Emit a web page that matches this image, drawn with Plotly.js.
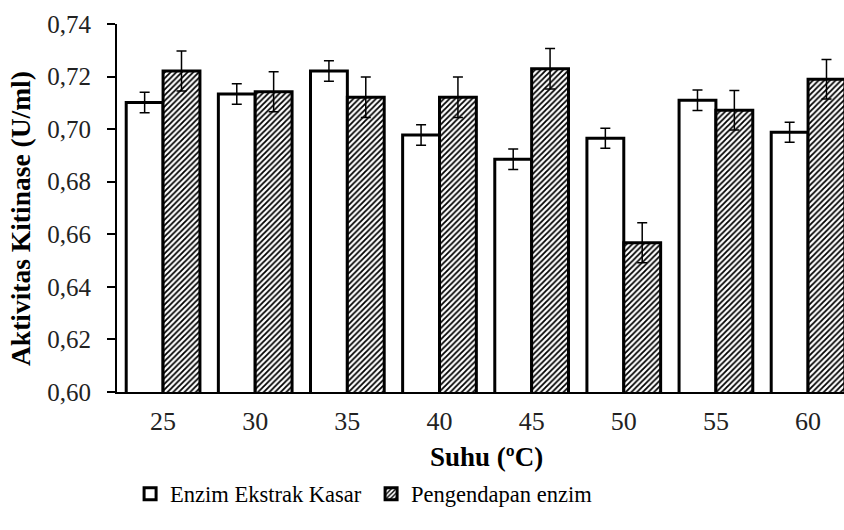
<!DOCTYPE html>
<html>
<head>
<meta charset="utf-8">
<script src="https://cdn.plot.ly/plotly-3.0.1.min.js"></script>
<style>html,body{margin:0;padding:0;background:#fff;}#chart{width:844px;height:530px;}</style>
</head>
<body>
<div id="chart"></div>
<script>
const categories = ['25', '30', '35', '40', '45', '50', '55', '60'];
const seriesNames = ['Enzim Ekstrak Kasar', 'Pengendapan enzim'];
const ekstrakKasar = [0.7101, 0.7134, 0.7221, 0.6978, 0.6885, 0.6965, 0.7110, 0.6988];
const ekstrakKasarErr = [0.0039, 0.0039, 0.0039, 0.0039, 0.0039, 0.0038, 0.0039, 0.0038];
const pengendapan = [0.7221, 0.7142, 0.7121, 0.7121, 0.7230, 0.6568, 0.7072, 0.7190];
const pengendapanErr = [0.0076, 0.0076, 0.0077, 0.0077, 0.0077, 0.0076, 0.0075, 0.0075];
const yTicks = [0.60, 0.62, 0.64, 0.66, 0.68, 0.70, 0.72, 0.74];
const yTickText = ['0,60', '0,62', '0,64', '0,66', '0,68', '0,70', '0,72', '0,74'];
const xTitle = '<b>Suhu (ºC)</b>';
const yTitle = '<b>Aktivitas Kitinase (U/ml)</b>';

const serif = "'Liberation Serif', 'DejaVu Serif', serif";

const traces = [
  {
    type: 'bar', name: seriesNames[0], x: categories, y: ekstrakKasar,
    marker: {color: '#ffffff', line: {color: '#000', width: 3}},
    error_y: {type: 'data', array: ekstrakKasarErr, visible: true, color: '#000', thickness: 1.5, width: 5}
  },
  {
    type: 'bar', name: seriesNames[1], x: categories, y: pengendapan,
    marker: {color: '#ffffff', line: {color: '#000', width: 3},
      pattern: {shape: '/', fgcolor: '#000', bgcolor: '#ffffff', size: 4, solidity: 0.45}},
    error_y: {type: 'data', array: pengendapanErr, visible: true, color: '#000', thickness: 1.5, width: 5}
  }
];

const layout = {
  width: 844, height: 530,
  margin: {l: 117, r: 0, t: 24, b: 138},
  paper_bgcolor: '#fff', plot_bgcolor: '#fff',
  barmode: 'group', bargap: 0.2, bargroupgap: 0,
  font: {family: serif, color: '#000'},
  xaxis: {
    type: 'category', range: [-0.5, 7.39],
    showline: true, linecolor: '#000', linewidth: 2,
    ticks: 'outside', ticklen: 5, tickcolor: 'rgba(0,0,0,0)', showgrid: false, zeroline: false,
    tickfont: {family: serif, size: 26, color: '#222'}
  },
  yaxis: {
    range: [0.60, 0.74], tickvals: yTicks, ticktext: yTickText,
    showline: true, linecolor: '#000', linewidth: 2,
    ticks: 'outside', ticklen: 8, tickwidth: 2, tickcolor: '#000',
    ticklabelstandoff: 11,
    showgrid: false, zeroline: false,
    tickfont: {family: serif, size: 25, color: '#222'}
  },
  annotations: [
    {text: xTitle, xref: 'paper', yref: 'paper', x: 0.5076, y: (392 - 457) / 368,
     xanchor: 'center', yanchor: 'middle', showarrow: false,
     font: {family: serif, size: 27, color: '#000'}},
    {text: yTitle, xref: 'paper', yref: 'paper', x: (20 - 117) / 727, y: (392 - 219) / 368,
     xanchor: 'center', yanchor: 'middle', showarrow: false, textangle: -90,
     font: {family: serif, size: 27.5, color: '#000'}}
  ],
  legend: {
    orientation: 'h', x: 0.018, xanchor: 'left', y: -0.219, yanchor: 'top',
    font: {family: serif, size: 22.5, color: '#000'},
    entrywidth: 196, entrywidthmode: 'pixels', itemwidth: 30
  },
  showlegend: true
};

Plotly.newPlot('chart', traces, layout, {displayModeBar: false, staticPlot: true});
</script>
</body>
</html>
